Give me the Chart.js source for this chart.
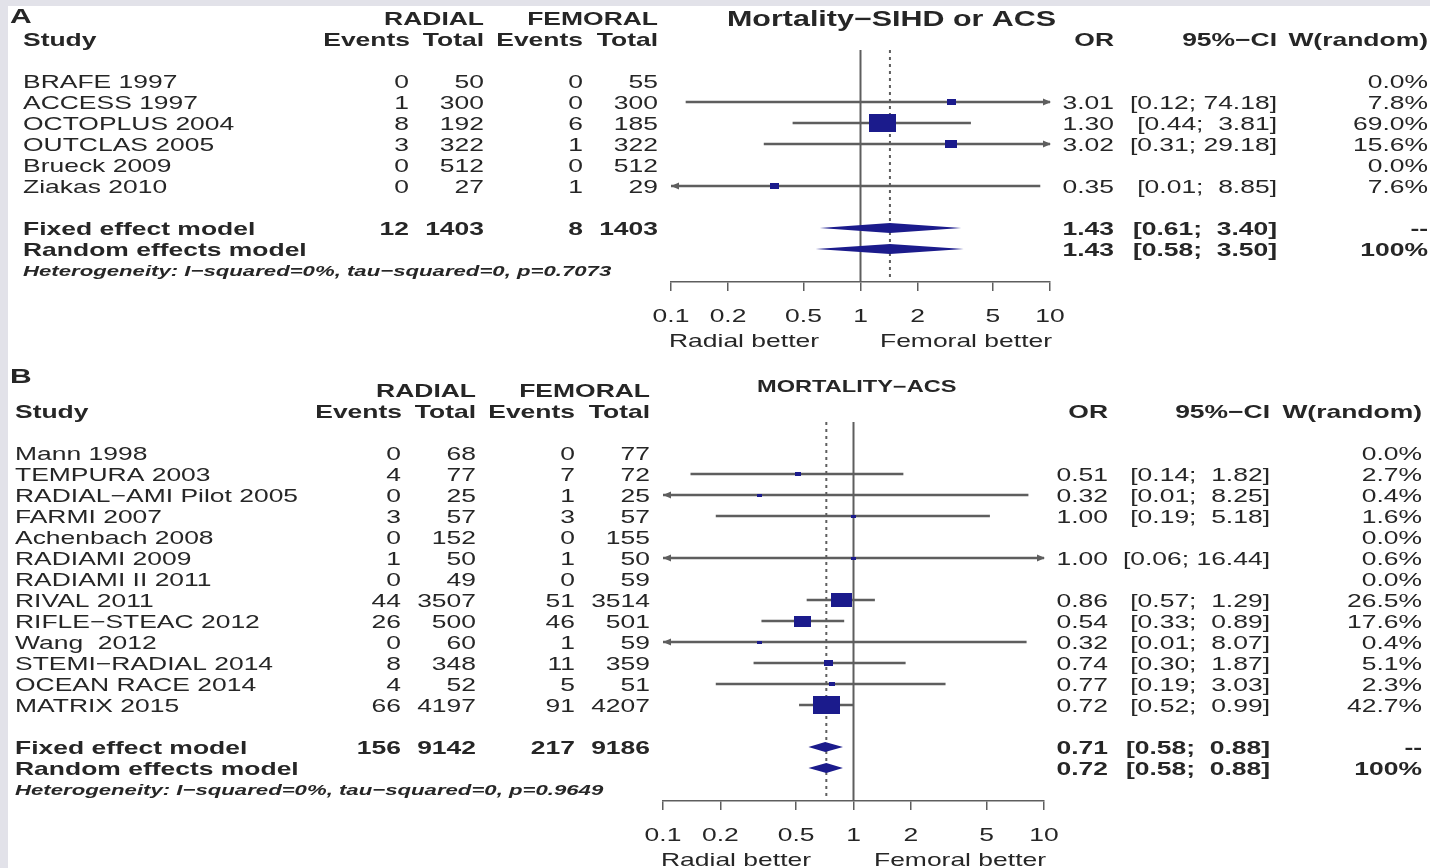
<!DOCTYPE html>
<html lang="en">
<head>
<meta charset="utf-8">
<title>Radial vs femoral access – mortality</title>
<script src="https://cdn.jsdelivr.net/npm/chart.js@4.4.1/dist/chart.umd.min.js"></script>
<style>
  html, body { margin: 0; padding: 0; background: #fff; }
  #sheet { position: relative; width: 1430px; height: 868px; overflow: hidden; background: #fff; }
  .edge { position: absolute; background: #e2e2e9; }
  .edge.top { left: 0; top: 0; width: 1430px; height: 6px; }
  .edge.left { left: 0; top: 0; width: 8px; height: 868px; }
  canvas { position: absolute; left: 0; }
  #forestA { top: 0; }
  #forestB { top: 355px; }
</style>
</head>
<body>
<div id="sheet">
  <div class="edge top"></div>
  <div class="edge left"></div>
  <canvas id="forestA" width="1430" height="355"></canvas>
  <canvas id="forestB" width="1430" height="513"></canvas>
</div>
<script>
// A: mortality, stable ischaemic heart disease or ACS
const studiesA = ['BRAFE 1997', 'ACCESS 1997', 'OCTOPLUS 2004', 'OUTCLAS 2005', 'Brueck 2009', 'Ziakas 2010'];
const radialEventsA = [0, 1, 8, 3, 0, 0];
const radialTotalA = [50, 300, 192, 322, 512, 27];
const femoralEventsA = [0, 0, 6, 1, 0, 1];
const femoralTotalA = [55, 300, 185, 322, 512, 29];
const oddsA = [null, 3.01, 1.30, 3.02, null, 0.35];
const lowerA = [null, 0.12, 0.44, 0.31, null, 0.01];
const upperA = [null, 74.18, 3.81, 29.18, null, 8.85];
const weightA = [0.0, 7.8, 69.0, 15.6, 0.0, 7.6];
const pooledCountsA = [12, 1403, 8, 1403];
const fixedA = [1.43, 0.61, 3.40];
const randomA = [1.43, 0.58, 3.50];
const hetA = 'Heterogeneity: I−squared=0%, tau−squared=0, p=0.7073';

// B: mortality, ACS only
const studiesB = ['Mann 1998', 'TEMPURA 2003', 'RADIAL−AMI Pilot 2005', 'FARMI 2007', 'Achenbach 2008',
  'RADIAMI 2009', 'RADIAMI II 2011', 'RIVAL 2011', 'RIFLE−STEAC 2012', 'Wang  2012',
  'STEMI−RADIAL 2014', 'OCEAN RACE 2014', 'MATRIX 2015'];
const radialEventsB = [0, 4, 0, 3, 0, 1, 0, 44, 26, 0, 8, 4, 66];
const radialTotalB = [68, 77, 25, 57, 152, 50, 49, 3507, 500, 60, 348, 52, 4197];
const femoralEventsB = [0, 7, 1, 3, 0, 1, 0, 51, 46, 1, 11, 5, 91];
const femoralTotalB = [77, 72, 25, 57, 155, 50, 59, 3514, 501, 59, 359, 51, 4207];
const oddsB = [null, 0.51, 0.32, 1.00, null, 1.00, null, 0.86, 0.54, 0.32, 0.74, 0.77, 0.72];
const lowerB = [null, 0.14, 0.01, 0.19, null, 0.06, null, 0.57, 0.33, 0.01, 0.30, 0.19, 0.52];
const upperB = [null, 1.82, 8.25, 5.18, null, 16.44, null, 1.29, 0.89, 8.07, 1.87, 3.03, 0.99];
const weightB = [0.0, 2.7, 0.4, 1.6, 0.0, 0.6, 0.0, 26.5, 17.6, 0.4, 5.1, 2.3, 42.7];
const pooledCountsB = [156, 9142, 217, 9186];
const fixedB = [0.71, 0.58, 0.88];
const randomB = [0.72, 0.58, 0.88];
const hetB = 'Heterogeneity: I−squared=0%, tau−squared=0, p=0.9649';

const orTicks = [0.1, 0.2, 0.5, 1, 2, 5, 10];

const FONT = '"Liberation Sans", Arial, Helvetica, sans-serif';
const SX = 1.43;          // figure text is set wide
const BODY = 18.5;
const INK = '#262626';
const GREY = '#5e5e5e';
const NAVY = '#1b1b8c';
const MAX_BOX = 17.5;     // height of the heaviest study's box
const BOX_ASPECT = 1.5;
const DIAMOND_H = 5;

const panels = [
  {
    canvas: 'forestA', tag: 'A', title: 'Mortality−SIHD or ACS', titleSize: 21.3,
    studies: studiesA, radialEvents: radialEventsA, radialTotal: radialTotalA,
    femoralEvents: femoralEventsA, femoralTotal: femoralTotalA,
    odds: oddsA, lower: lowerA, upper: upperA, weight: weightA,
    pooledCounts: pooledCountsA, fixed: fixedA, random: randomA, het: hetA,
    box: { left: 671, right: 1050, top: 50, bottom: 282, row0: 60, rowH: 21 },
    cols: { tag: 10, study: 23, radEv: 409, radTot: 484, femEv: 583, femTot: 658, or: 1114, ci: 1277, w: 1428 },
    tagRow: -2.1, titleX: 727, titleRow: -2
  },
  {
    canvas: 'forestB', tag: 'B', title: 'MORTALITY−ACS', titleSize: 16.5,
    studies: studiesB, radialEvents: radialEventsB, radialTotal: radialTotalB,
    femoralEvents: femoralEventsB, femoralTotal: femoralTotalB,
    odds: oddsB, lower: lowerB, upper: upperB, weight: weightB,
    pooledCounts: pooledCountsB, fixed: fixedB, random: randomB, het: hetB,
    box: { left: 663, right: 1044, top: 67, bottom: 446, row0: 77, rowH: 21 },
    cols: { tag: 10, study: 15, radEv: 401, radTot: 476, femEv: 575, femTot: 650, or: 1108, ci: 1270, w: 1422 },
    tagRow: -2.67, titleX: 757, titleRow: -2.19
  }
];

// text helper: wide-set, vertically centred on y
function say(ctx, str, x, y, align, font, size) {
  ctx.save();
  ctx.font = font;
  ctx.fillStyle = INK;
  ctx.textAlign = align;
  ctx.textBaseline = 'alphabetic';
  ctx.translate(x, y + size * 0.358);
  ctx.scale(SX, 1);
  ctx.fillText(str, 0, 0);
  ctx.restore();
}

const f2 = v => v.toFixed(2);

function ciFormatter(lowers, uppers) {
  const wl = Math.max(...lowers.map(v => f2(v).length));
  const wu = Math.max(...uppers.map(v => f2(v).length));
  return (lo, hi) => '[' + f2(lo).padStart(wl) + '; ' + f2(hi).padStart(wu) + ']';
}

const boxCache = new Map();
function boxImage(h) {
  const hh = Math.max(3, Math.round(h));
  if (!boxCache.has(hh)) {
    const c = document.createElement('canvas');
    c.width = Math.round(hh * BOX_ASPECT);
    c.height = hh;
    const g = c.getContext('2d');
    g.fillStyle = NAVY;
    g.fillRect(0, 0, c.width, c.height);
    boxCache.set(hh, c);
  }
  return boxCache.get(hh);
}

function arrow(ctx, tip, y, dir) {
  ctx.beginPath();
  ctx.moveTo(tip, y);
  ctx.lineTo(tip - dir * 8, y - 3.5);
  ctx.lineTo(tip - dir * 8, y + 3.5);
  ctx.closePath();
  ctx.fill();
}

function forestPlugin(p) {
  const n = p.studies.length;
  const shown = p.odds.map((v, i) => i).filter(i => p.odds[i] != null);
  const ci = ciFormatter(
    shown.map(i => p.lower[i]).concat([p.fixed[1], p.random[1]]),
    shown.map(i => p.upper[i]).concat([p.fixed[2], p.random[2]])
  );

  return {
    id: 'forestTable',

    // no-effect line and the pooled (random) estimate
    beforeDatasetsDraw(chart) {
      const { ctx, chartArea: a } = chart;
      const x = chart.scales.x;
      ctx.save();
      ctx.strokeStyle = GREY;
      ctx.lineWidth = 2;
      const x1 = x.getPixelForValue(1);
      ctx.beginPath(); ctx.moveTo(x1, a.top); ctx.lineTo(x1, a.bottom); ctx.stroke();
      const xr = x.getPixelForValue(p.random[0]);
      ctx.setLineDash([3, 4]);
      ctx.beginPath(); ctx.moveTo(xr, a.top); ctx.lineTo(xr, a.bottom); ctx.stroke();
      ctx.restore();
    },

    // arrows for truncated intervals, diamonds for the pooled models
    afterDatasetsDraw(chart) {
      const { ctx, chartArea: a } = chart;
      const x = chart.scales.x, ys = chart.scales.y;
      ctx.save();
      ctx.fillStyle = GREY;
      shown.forEach(i => {
        const y = ys.getPixelForValue(i + 1);
        if (p.lower[i] < x.min) arrow(ctx, a.left, y, -1);
        if (p.upper[i] > x.max) arrow(ctx, a.right + 1, y, 1);
      });
      ctx.fillStyle = NAVY;
      [[p.fixed, n + 2], [p.random, n + 3]].forEach(([est, r]) => {
        const y = ys.getPixelForValue(r);
        const xl = x.getPixelForValue(est[1]);
        const xm = x.getPixelForValue(est[0]);
        const xh = x.getPixelForValue(est[2]);
        ctx.beginPath();
        ctx.moveTo(xl, y);
        ctx.lineTo(xm, y - DIAMOND_H);
        ctx.lineTo(xh, y);
        ctx.lineTo(xm, y + DIAMOND_H);
        ctx.closePath();
        ctx.fill();
      });
      ctx.restore();
    },

    // study table, headings and axis labels
    afterDraw(chart) {
      const { ctx, chartArea: a } = chart;
      const x = chart.scales.x, ys = chart.scales.y;
      const c = p.cols;
      const row = r => ys.getPixelForValue(r);
      const reg = `${BODY}px ${FONT}`;
      const bold = `bold ${BODY}px ${FONT}`;
      const t = (s, xx, r, align, font) => say(ctx, s, xx, row(r), align, font || reg, BODY);

      say(ctx, p.tag, c.tag, row(p.tagRow), 'left', `bold 21px ${FONT}`, 21);
      say(ctx, p.title, p.titleX, row(p.titleRow), 'left', `bold ${p.titleSize}px ${FONT}`, p.titleSize);

      t('RADIAL', c.radTot, -2, 'right', bold);
      t('FEMORAL', c.femTot, -2, 'right', bold);
      t('Study', c.study, -1, 'left', bold);
      t('Events', c.radEv + 1, -1, 'right', bold);
      t('Total', c.radTot, -1, 'right', bold);
      t('Events', c.femEv, -1, 'right', bold);
      t('Total', c.femTot, -1, 'right', bold);
      t('OR', c.or, -1, 'right', bold);
      t('95%−CI', c.ci, -1, 'right', bold);
      t('W(random)', c.w, -1, 'right', bold);

      p.studies.forEach((name, i) => {
        const r = i + 1;
        t(name, c.study, r, 'left');
        t(String(p.radialEvents[i]), c.radEv, r, 'right');
        t(String(p.radialTotal[i]), c.radTot, r, 'right');
        t(String(p.femoralEvents[i]), c.femEv, r, 'right');
        t(String(p.femoralTotal[i]), c.femTot, r, 'right');
        if (p.odds[i] != null) {
          t(f2(p.odds[i]), c.or, r, 'right');
          t(ci(p.lower[i], p.upper[i]), c.ci, r, 'right');
        }
        t(p.weight[i].toFixed(1) + '%', c.w, r, 'right');
      });

      const rf = n + 2, rr = n + 3;
      t('Fixed effect model', c.study, rf, 'left', bold);
      t(String(p.pooledCounts[0]), c.radEv, rf, 'right', bold);
      t(String(p.pooledCounts[1]), c.radTot, rf, 'right', bold);
      t(String(p.pooledCounts[2]), c.femEv, rf, 'right', bold);
      t(String(p.pooledCounts[3]), c.femTot, rf, 'right', bold);
      t(f2(p.fixed[0]), c.or, rf, 'right', bold);
      t(ci(p.fixed[1], p.fixed[2]), c.ci, rf, 'right', bold);
      t('--', c.w, rf, 'right', bold);

      t('Random effects model', c.study, rr, 'left', bold);
      t(f2(p.random[0]), c.or, rr, 'right', bold);
      t(ci(p.random[1], p.random[2]), c.ci, rr, 'right', bold);
      t('100%', c.w, rr, 'right', bold);

      say(ctx, p.het, c.study, row(n + 4), 'left', `italic bold 15.5px ${FONT}`, 15.5);

      x.ticks.forEach(tk => {
        say(ctx, String(tk.value), x.getPixelForValue(tk.value), a.bottom + 33, 'center', reg, BODY);
      });
      say(ctx, 'Radial better', a.left - 2, a.bottom + 58, 'left', reg, BODY);
      say(ctx, 'Femoral better', a.right + 2, a.bottom + 58, 'right', reg, BODY);
    }
  };
}

function drawForest(p) {
  const g = p.box;
  const maxW = Math.max(...p.weight);
  const rows = p.odds.map((v, i) => i).filter(i => p.odds[i] != null);

  const ciBars = rows.map(i => ({ x: [p.lower[i], p.upper[i]], y: i + 1 }));
  const boxes = rows.map(i => ({ x: p.odds[i], y: i + 1, w: p.weight[i] }));

  new Chart(document.getElementById(p.canvas), {
    type: 'scatter',
    data: {
      datasets: [
        {
          type: 'bar',
          indexAxis: 'y',
          data: ciBars,
          backgroundColor: GREY,
          borderWidth: 0,
          barThickness: 2,
          order: 2
        },
        {
          type: 'scatter',
          data: boxes,
          pointStyle: ctx => ctx.raw ? boxImage(MAX_BOX * Math.sqrt(ctx.raw.w / maxW)) : 'rect',
          pointRadius: 4,
          order: 1
        }
      ]
    },
    options: {
      responsive: false,
      animation: false,
      devicePixelRatio: 1,
      events: [],
      layout: { padding: { left: g.left, right: 1430 - g.right, top: g.top, bottom: 0 } },
      plugins: { legend: { display: false }, tooltip: { enabled: false } },
      scales: {
        x: {
          type: 'logarithmic',
          min: 0.1,
          max: 10,
          beginAtZero: false,
          afterBuildTicks: s => { s.ticks = orTicks.map(v => ({ value: v })); },
          afterFit: s => { s.height = s.chart.height - g.bottom; },
          ticks: { display: false },
          grid: { drawOnChartArea: false, drawTicks: true, tickLength: 9, color: GREY, lineWidth: 1.5 },
          border: { display: true, color: GREY, width: 1.5 }
        },
        // one unit per table row; the bar datasets would otherwise pad this axis
        y: {
          type: 'linear',
          reverse: true,
          display: false,
          offset: false,
          grid: { offset: false },
          min: (g.top - g.row0) / g.rowH,
          max: (g.bottom - g.row0) / g.rowH
        }
      }
    },
    plugins: [forestPlugin(p)]
  });
}

panels.forEach(drawForest);
</script>
</body>
</html>
